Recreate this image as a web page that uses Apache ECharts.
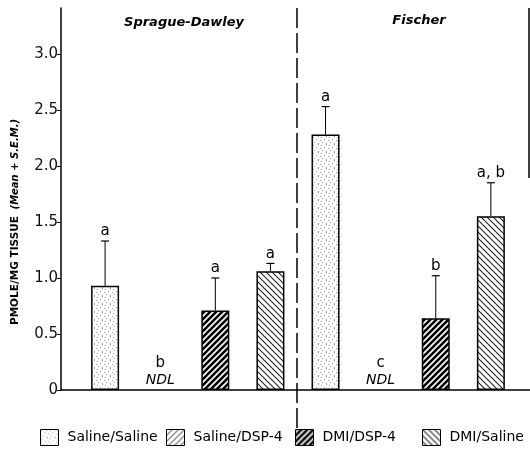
<!DOCTYPE html>
<html>
<head>
<meta charset="utf-8">
<script src="https://cdn.jsdelivr.net/npm/echarts@6/dist/echarts.min.js"></script>
<style>
  html, body { margin: 0; padding: 0; background: #fff; }
  #chart { width: 530px; height: 461px; }
</style>
</head>
<body>
<div id="chart"></div>
<script>
// strains (groups) and treatments
const strains = ['Sprague-Dawley', 'Fischer']
const treatments = ['Saline/Saline', 'Saline/DSP-4', 'DMI/DSP-4', 'DMI/Saline']

// means per treatment, [Sprague-Dawley, Fischer]; null = NDL
const salineSaline = [0.93, 2.28]
const salineDsp4 = [null, null]
const dmiDsp4 = [0.71, 0.64]
const dmiSaline = [1.06, 1.55]

// S.E.M.
const semSalineSaline = [0.40, 0.25]
const semSalineDsp4 = [0, 0]
const semDmiDsp4 = [0.29, 0.38]
const semDmiSaline = [0.07, 0.30]

// significance letters
const lettersSalineSaline = ['a', 'a']
const lettersSalineDsp4 = ['b', 'c']
const lettersDmiDsp4 = ['a', 'b']
const lettersDmiSaline = ['a', 'a, b']

const yTicks = [0, 0.5, 1.0, 1.5, 2.0, 2.5, 3.0]

const FONT = 'DejaVu Sans'

// 填充图案
const makePattern = (draw, size) => {
  const c = document.createElement('canvas')
  c.width = size
  c.height = size
  const ctx = c.getContext('2d')
  ctx.fillStyle = '#fff'
  ctx.fillRect(0, 0, size, size)
  draw(ctx, size)
  return { image: c, repeat: 'repeat' }
}
const diag = (ctx, s, dir, w, col) => {
  ctx.strokeStyle = col
  ctx.lineWidth = w
  ctx.beginPath()
  for (let k = -1; k <= 1; k++) {
    if (dir > 0) {
      ctx.moveTo(k * s - 1, s + 1); ctx.lineTo(k * s + s + 1, -1)
    } else {
      ctx.moveTo(k * s - 1, -1); ctx.lineTo(k * s + s + 1, s + 1)
    }
  }
  ctx.stroke()
}
const patterns = [
  makePattern((ctx) => {
    ctx.fillStyle = '#a0a0a0'
    const pts = [[1, 1], [4, 3], [2, 6], [6, 7], [6, 0], [0, 4]]
    pts.forEach(p => ctx.fillRect(p[0], p[1], 1, 1))
  }, 8),
  makePattern((ctx, s) => diag(ctx, s, 1, 1, '#222'), 6),
  makePattern((ctx, s) => diag(ctx, s, 1, 2.6, '#000'), 6),
  makePattern((ctx, s) => diag(ctx, s, -1, 1.1, '#222'), 6)
]

const meansList = [salineSaline, salineDsp4, dmiDsp4, dmiSaline]
const semList = [semSalineSaline, semSalineDsp4, semDmiDsp4, semDmiSaline]
const lettersList = [lettersSalineSaline, lettersSalineDsp4, lettersDmiDsp4, lettersDmiSaline]

// bar position on the x axis: one slot per treatment, strains side by side
const pos = (g, t) => g * treatments.length + t + 1

const barSeries = treatments.map((name, t) => ({
  name,
  type: 'bar',
  barWidth: 28,
  barGap: '-100%',
  itemStyle: { color: patterns[t], borderColor: '#000', borderWidth: 1.5 },
  data: strains.map((s, g) => [pos(g, t), meansList[t][g] == null ? '-' : meansList[t][g]])
}))

const errData = []
const errInfo = []
treatments.forEach((name, t) => {
  strains.forEach((s, g) => {
    const m = meansList[t][g]
    errData.push([pos(g, t), m == null ? 0 : m, semList[t][g]])
    errInfo.push({ letter: lettersList[t][g], ndl: m == null })
  })
})

const chart = echarts.init(document.getElementById('chart'))

chart.setOption({
  animation: false,
  grid: { left: 61, right: 0, top: 8, bottom: 71, containLabel: false },
  title: [
    { text: strains[0], left: 179, top: 11, textAlign: 'center',
      textStyle: { fontFamily: FONT, fontSize: 13, fontWeight: 'bold', fontStyle: 'italic', color: '#000' } },
    { text: strains[1], left: 414, top: 9, textAlign: 'center',
      textStyle: { fontFamily: FONT, fontSize: 13, fontWeight: 'bold', fontStyle: 'italic', color: '#000' } }
  ],
  legend: treatments.map((name, t) => ({
    data: [name],
    left: [40, 166, 295, 422][t],
    top: 429,
    padding: 0,
    icon: 'rect',
    itemWidth: 18,
    itemHeight: 16,
    selectedMode: false,
    itemStyle: { borderColor: '#000', borderWidth: 1 },
    textStyle: { fontFamily: FONT, fontSize: 14, color: '#000', padding: [0, 0, 0, 4] }
  })),
  xAxis: {
    type: 'value',
    min: 0.2,
    max: 8.71,
    axisLine: { show: true, onZero: false, lineStyle: { color: '#000', width: 1.5 } },
    axisTick: { show: false },
    axisLabel: { show: false },
    splitLine: { show: false }
  },
  yAxis: {
    type: 'value',
    min: 0,
    max: 3.41,
    interval: 0.5,
    axisLine: { show: true, lineStyle: { color: '#000', width: 1.5 } },
    axisTick: { show: true, length: 4, lineStyle: { color: '#000' },
      customValues: yTicks },
    axisLabel: {
      fontFamily: FONT, fontSize: 15, color: '#111', margin: 3,
      customValues: yTicks,
      formatter: v => v === 0 ? '0' : v.toFixed(1)
    },
    splitLine: { show: false }
  },
  graphic: [
    { type: 'text', x: 15, y: 222, rotation: Math.PI / 2,
      style: {
        text: '{a|PMOLE/MG TISSUE}  {b|(Mean + S.E.M.)}',
        align: 'center', verticalAlign: 'middle',
        rich: {
          a: { fontFamily: FONT, fontSize: 10.5, fontWeight: 'bold', fill: '#000' },
          b: { fontFamily: FONT, fontSize: 10, fontWeight: 'bold', fontStyle: 'italic', fill: '#000' }
        }
      } },
    { type: 'line', shape: { x1: 297, y1: 8, x2: 297, y2: 432 },
      style: { stroke: '#000', lineWidth: 1.5, lineDash: [20, 5] } },
    { type: 'line', shape: { x1: 529, y1: 8, x2: 529, y2: 178 },
      style: { stroke: '#000', lineWidth: 1.5 } }
  ],
  series: [
    ...barSeries,
    {
      type: 'custom',
      z: 5,
      data: errData,
      renderItem: (params, api) => {
        const x = api.value(0)
        const m = api.value(1)
        const s = api.value(2)
        const info = errInfo[params.dataIndex]
        const textStyle = { fontFamily: FONT, fontSize: 15, fill: '#000', align: 'center' }
        if (info.ndl) {
          const p = api.coord([x, 0])
          return {
            type: 'group',
            children: [
              { type: 'text', x: p[0], y: p[1] - 19, style: { ...textStyle, text: info.letter, verticalAlign: 'bottom' } },
              { type: 'text', x: p[0], y: p[1] - 10, style: { ...textStyle, fontSize: 14, fontStyle: 'italic', text: 'NDL', verticalAlign: 'middle' } }
            ]
          }
        }
        const p0 = api.coord([x, m])
        const p1 = api.coord([x, m + s])
        return {
          type: 'group',
          children: [
            { type: 'line', shape: { x1: p0[0], y1: p0[1], x2: p1[0], y2: p1[1] }, style: { stroke: '#000', lineWidth: 1 } },
            { type: 'line', shape: { x1: p1[0] - 4, y1: p1[1], x2: p1[0] + 4, y2: p1[1] }, style: { stroke: '#000', lineWidth: 1.2 } },
            { type: 'text', x: p1[0], y: p1[1] - 2, style: { ...textStyle, text: info.letter, verticalAlign: 'bottom' } }
          ]
        }
      }
    }
  ]
})
</script>
</body>
</html>
